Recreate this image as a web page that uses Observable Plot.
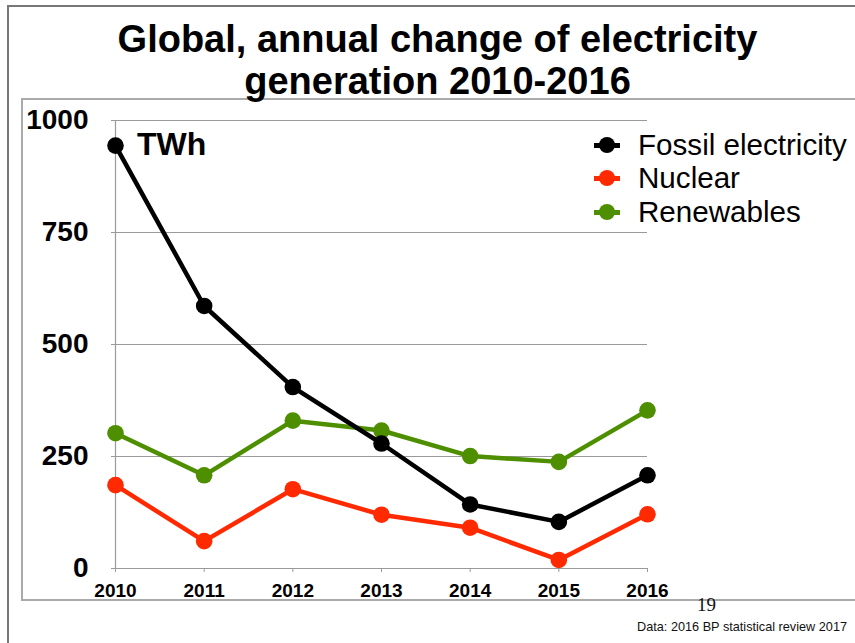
<!DOCTYPE html>
<html>
<head>
<meta charset="utf-8">
<script src="https://cdn.jsdelivr.net/npm/d3@7"></script>
<script src="https://cdn.jsdelivr.net/npm/@observablehq/plot@0.6"></script>
<style>
  html, body { margin: 0; padding: 0; background: #fff; }
  body { width: 855px; height: 643px; position: relative; overflow: hidden; font-family: "Liberation Sans", Arial, sans-serif; }
  .abs { position: absolute; }
  #chart { position: absolute; left: 0; top: 0; }
  .title { left: 0; width: 875px; top: 18px; text-align: center; font-weight: bold; font-size: 38px; line-height: 42px; color: #000; }
  .legend { left: 594px; top: 128px; font-size: 29.6px; line-height: 34px; }
  .legend .row { display: flex; align-items: center; height: 33.5px; }
  .legend .mk { width: 26px; height: 16px; position: relative; margin-right: 18px; }
  .legend .mk .ln { position: absolute; left: 0; right: 0; top: 6px; height: 5px; }
  .legend .mk .dt { position: absolute; left: 5px; top: 0; width: 16px; height: 16px; border-radius: 50%; }
</style>
</head>
<body>
<div class="abs" style="left:7px;top:5px;width:848px;height:1.5px;background:#777"></div>
<div class="abs" style="left:7px;top:5px;width:1.5px;height:640px;background:#777"></div>
<div class="abs" style="left:21px;top:98px;width:834px;height:1.5px;background:#aaa"></div>
<div class="abs" style="left:21px;top:98px;width:1.5px;height:502px;background:#aaa"></div>
<div class="abs" style="left:21px;top:599px;width:834px;height:1.5px;background:#aaa"></div>
<div id="chart"></div>
<div class="abs title">Global, annual change of electricity<br>generation 2010-2016</div>
<div class="abs" id="unit" style="left:137px;top:126px;font-weight:bold;font-size:32px;line-height:36px;">TWh</div>
<div class="abs legend" id="legend"></div>
<div class="abs" style="left:697px;top:594px;font-family:'Liberation Serif','Times New Roman',serif;font-size:19px;line-height:22px;color:#111">19</div>
<div class="abs" style="right:8px;top:619px;font-size:12.7px;line-height:16px;color:#111">Data: 2016 BP statistical review 2017</div>
<script>
const years = [2010, 2011, 2012, 2013, 2014, 2015, 2016];
const seriesNames = ["Fossil electricity", "Nuclear", "Renewables"];
const seriesColors = ["#000000", "#ff2a00", "#4e8f00"];
const fossil = [944, 586, 405, 279, 143, 104, 208];
const nuclear = [186, 61, 177, 120, 91, 19, 121];
const renewables = [302, 208, 330, 308, 251, 238, 353];
const yTicks = [0, 250, 500, 750, 1000];

const seriesValues = [fossil, nuclear, renewables];
const rows = [];
seriesNames.forEach((name, i) => {
  years.forEach((yr, j) => rows.push({series: name, year: yr, value: seriesValues[i][j]}));
});
const drawOrder = ["Nuclear", "Renewables", "Fossil electricity"];
const colorOf = Object.fromEntries(seriesNames.map((n, i) => [n, seriesColors[i]]));

const marks = [
  Plot.gridY(yTicks.filter(d => d > 0), {stroke: "#9a9a9a", strokeOpacity: 1, strokeWidth: 1}),
  Plot.ruleX([years[0]], {stroke: "#9a9a9a", strokeWidth: 1.2}),
  Plot.ruleY([0], {stroke: "#9a9a9a", strokeWidth: 1.2}),
  Plot.axisY({ticks: yTicks, tickSize: 4, tickPadding: 23, tickFormat: "d", stroke: "#9a9a9a",
    fontSize: 28, fontWeight: "bold", fill: "#000", label: null}),
  Plot.axisX({ticks: years, tickSize: 4, tickPadding: 11, tickFormat: "d", stroke: "#9a9a9a",
    fontSize: 19, fontWeight: "bold", fill: "#000", label: null})
];
for (const name of drawOrder) {
  const data = rows.filter(r => r.series === name);
  marks.push(Plot.line(data, {x: "year", y: "value", stroke: colorOf[name], strokeWidth: 4.5}));
  marks.push(Plot.dot(data, {x: "year", y: "value", fill: colorOf[name], r: 8.3, stroke: "none"}));
}

const chart = Plot.plot({
  width: 855,
  height: 643,
  marginLeft: 115,
  marginRight: 208,
  marginTop: 120,
  marginBottom: 75,
  style: {background: "transparent", fontFamily: "'Liberation Sans', Arial, sans-serif", color: "#000"},
  x: {domain: [2010, 2016]},
  y: {domain: [0, 1000]},
  marks
});
document.getElementById("chart").appendChild(chart);

const legend = document.getElementById("legend");
seriesNames.forEach((name, i) => {
  const row = document.createElement("div");
  row.className = "row";
  row.innerHTML = `<span class="mk"><span class="ln" style="background:${seriesColors[i]}"></span><span class="dt" style="background:${seriesColors[i]}"></span></span><span>${name}</span>`;
  legend.appendChild(row);
});
</script>
</body>
</html>
